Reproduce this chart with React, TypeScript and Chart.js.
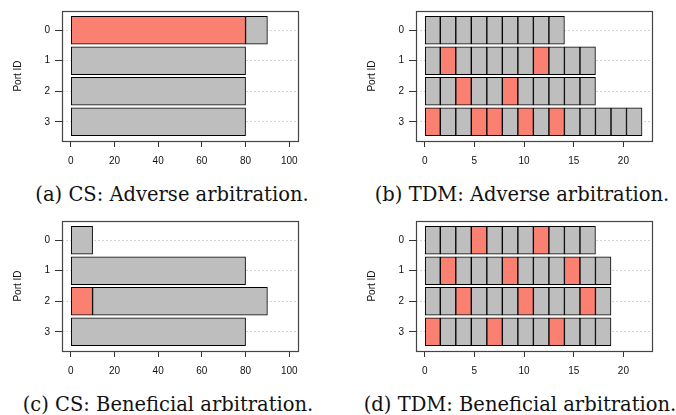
import React, { useEffect, useRef } from "react";
import { Chart, registerables } from "chart.js";
Chart.register(...registerables);

// ---- data ----
const portLabels = ["0", "1", "2", "3"];

// CS panels: red part starts at 0, grey part follows it
const csAdverseRed = [80, 0, 0, 0];
const csAdverseGrey = [10, 80, 80, 80];
const csBeneficialRed = [0, 0, 10, 0];
const csBeneficialGrey = [10, 80, 80, 80];
const csTicks = [0, 20, 40, 60, 80, 100];
const csLimits = [-4, 104];

// TDM panels: number of slots per port, and which slots are red
const tdmSlotWidth = 1.5625;
const tdmAdverseSlots = [9, 11, 11, 14];
const tdmAdverseRed = [[], [1, 7], [2, 5], [0, 3, 4, 6, 8]];
const tdmBeneficialSlots = [11, 12, 12, 12];
const tdmBeneficialRed = [[3, 7], [1, 5, 9], [2, 6, 10], [0, 4, 8]];
const tdmTicks = [0, 5, 10, 15, 20];
const tdmLimits = [-0.88, 22.88];

const captions = [
  "(a) CS: Adverse arbitration.",
  "(b) TDM: Adverse arbitration.",
  "(c) CS: Beneficial arbitration.",
  "(d) TDM: Beneficial arbitration.",
];

const RED = "#FA8072";
const GREY = "#BEBEBE";

function csDatasets(red: number[], grey: number[]) {
  const redData: any[] = [];
  const greyData: any[] = [];
  red.forEach((r, p) => {
    if (r > 0) redData.push({ y: p, x: [0, r] });
    if (grey[p] > 0) greyData.push({ y: p, x: [r, r + grey[p]] });
  });
  return [
    { data: redData, backgroundColor: RED },
    { data: greyData, backgroundColor: GREY },
  ];
}

function tdmDatasets(slots: number[], redSlots: number[][]) {
  const maxSlots = Math.max(...slots);
  const sets: any[] = [];
  for (let k = 0; k < maxSlots; k++) {
    const data: any[] = [];
    const colors: string[] = [];
    slots.forEach((n, p) => {
      if (n > k) {
        data.push({ y: p, x: [k * tdmSlotWidth, (k + 1) * tdmSlotWidth] });
        colors.push(redSlots[p].includes(k) ? RED : GREY);
      }
    });
    sets.push({ data, backgroundColor: colors });
  }
  return sets;
}

const boxPlugin = {
  id: "rbox",
  afterDatasetsDraw(chart: any) {
    const { ctx, chartArea } = chart;
    ctx.save();
    ctx.strokeStyle = "#444";
    ctx.lineWidth = 1.2;
    ctx.strokeRect(
      chartArea.left + 0.5,
      chartArea.top + 0.5,
      chartArea.right - chartArea.left,
      chartArea.bottom - chartArea.top
    );
    ctx.restore();
  },
};

type PanelProps = {
  left: number;
  top: number;
  axisWidth: number;
  datasets: any[];
  xTicks: number[];
  limits: number[];
};

const W = 338;
const H = 175;

function Panel({ left, top, axisWidth, datasets, xTicks, limits }: PanelProps) {
  const ref = useRef<HTMLCanvasElement>(null);
  useEffect(() => {
    if (!ref.current) return;
    const chart = new Chart(ref.current, {
      type: "bar",
      data: {
        datasets: datasets.map((d) => ({
          ...d,
          borderColor: "#000",
          borderWidth: 1,
          borderSkipped: false,
          barThickness: 28,
          grouped: false,
        })),
      },
      options: {
        indexAxis: "y",
        animation: false,
        responsive: false,
        devicePixelRatio: 1,
        layout: { padding: { top: 6, right: W - axisWidth - 236, left: 0, bottom: 0 } },
        plugins: { legend: { display: false }, tooltip: { enabled: false } },
        scales: {
          x: {
            type: "linear",
            min: limits[0],
            max: limits[1],
            offset: false,
            afterBuildTicks: (s: any) => {
              s.ticks = xTicks.map((v) => ({ value: v }));
            },
            afterFit: (s: any) => {
              s.height = H - 141;
            },
            grid: {
              display: true,
              offset: false,
              drawOnChartArea: false,
              drawTicks: true,
              tickLength: 6,
              tickColor: "#333",
              tickWidth: 1,
            },
            border: { display: false },
            ticks: {
              padding: 8,
              color: "#111",
              font: { family: "Liberation Sans", size: 10 },
              maxRotation: 0,
              autoSkip: false,
            },
          },
          y: {
            type: "linear",
            min: -0.63,
            max: 3.63,
            reverse: true,
            offset: false,
            afterBuildTicks: (s: any) => {
              s.ticks = portLabels.map((_, i) => ({ value: i }));
            },
            afterFit: (s: any) => {
              s.width = axisWidth;
            },
            grid: {
              display: true,
              offset: false,
              drawOnChartArea: true,
              drawTicks: true,
              color: "#d4d4d4",
              borderDash: [2, 2],
              tickLength: 7,
              tickColor: "#333",
              tickBorderDash: [],
              lineWidth: 1,
            },
            border: { display: false, dash: [2, 2] },
            title: {
              display: true,
              text: "Port ID",
              color: "#111",
              font: { family: "Liberation Sans", size: 10 },
              padding: { top: axisWidth - 50, bottom: 0 },
            },
            ticks: {
              padding: 5,
              color: "#111",
              font: { family: "Liberation Sans", size: 10 },
              autoSkip: false,
              callback: (v: any) => portLabels[v as number],
            },
          },
        },
      } as any,
      plugins: [boxPlugin],
    });
    return () => chart.destroy();
  }, []);
  return (
    <canvas
      ref={ref}
      width={W}
      height={H}
      style={{ position: "absolute", left, top, width: W, height: H }}
    />
  );
}

function Caption({ text, cx, baseline }: { text: string; cx: number; baseline: number }) {
  return (
    <div
      style={{
        position: "absolute",
        left: cx - 200,
        width: 400,
        top: baseline - 19,
        textAlign: "center",
        fontFamily: "'DejaVu Serif', serif",
        fontSize: 19.5,
        lineHeight: "24px",
        color: "#111",
        whiteSpace: "nowrap",
      }}
    >
      {text}
    </div>
  );
}

export default function App() {
  return (
    <div style={{ position: "absolute", left: 0, top: 0, width: 676, height: 415, background: "#fff" }}>
      <Panel left={0} top={0} axisWidth={62} datasets={csDatasets(csAdverseRed, csAdverseGrey)} xTicks={csTicks} limits={csLimits} />
      <Panel left={338} top={0} axisWidth={78} datasets={tdmDatasets(tdmAdverseSlots, tdmAdverseRed)} xTicks={tdmTicks} limits={tdmLimits} />
      <Panel left={0} top={210} axisWidth={62} datasets={csDatasets(csBeneficialRed, csBeneficialGrey)} xTicks={csTicks} limits={csLimits} />
      <Panel left={338} top={210} axisWidth={78} datasets={tdmDatasets(tdmBeneficialSlots, tdmBeneficialRed)} xTicks={tdmTicks} limits={tdmLimits} />
      <Caption text={captions[0]} cx={172} baseline={202} />
      <Caption text={captions[1]} cx={522} baseline={202} />
      <Caption text={captions[2]} cx={168} baseline={412} />
      <Caption text={captions[3]} cx={520} baseline={412} />
    </div>
  );
}
